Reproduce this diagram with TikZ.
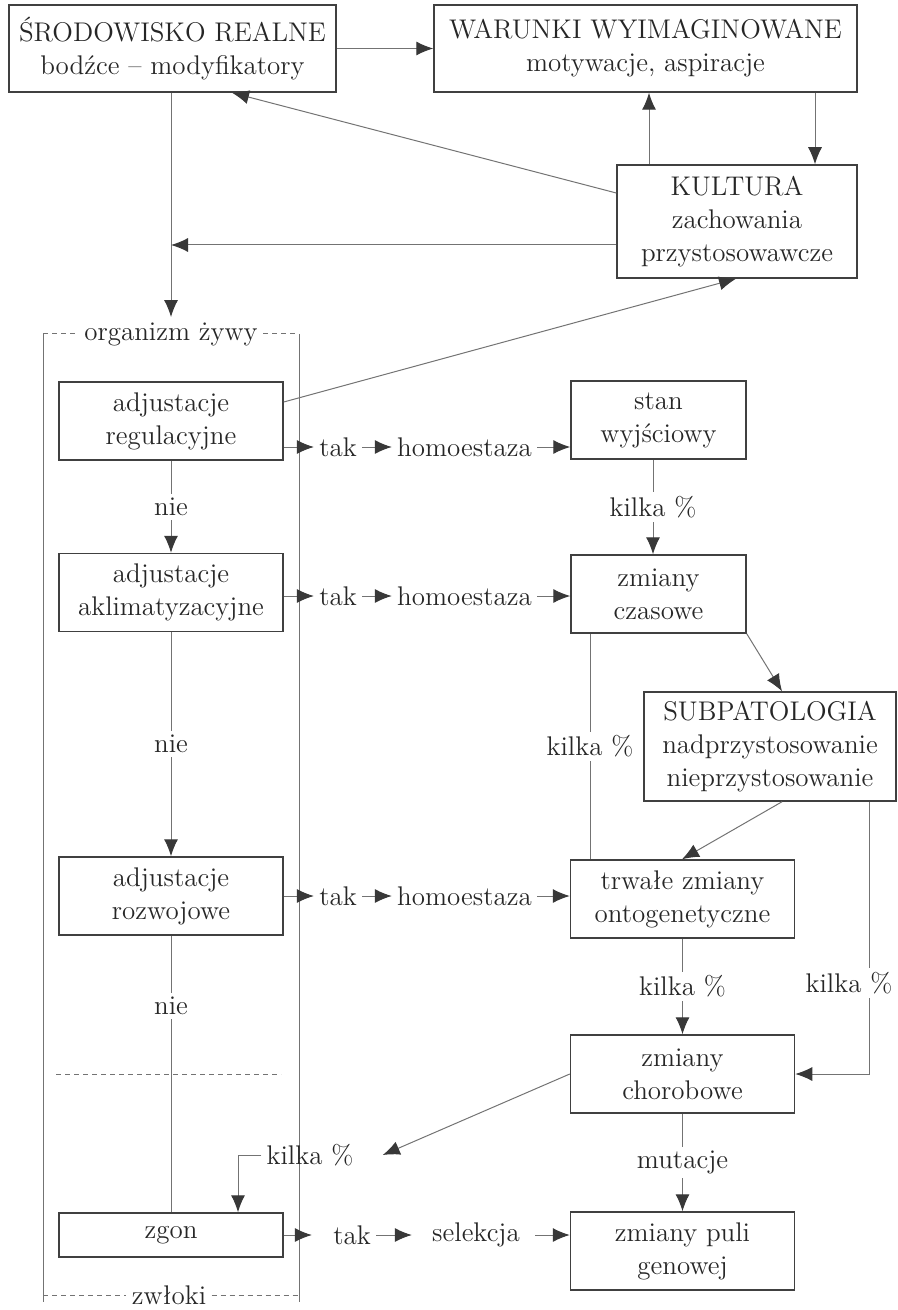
\documentclass[tikz,border=0pt]{standalone}
\usepackage{fontspec}
\usetikzlibrary{arrows.meta}

\begin{document}
\begin{tikzpicture}[x=0.5pt,y=-0.5pt,font=\fontsize{13.5}{16.5}\selectfont,
    every node/.append style={text=black!85},
    box/.style={draw=black!75,line width=0.75pt,align=center,inner sep=0pt,minimum width=112pt,minimum height=39pt},
    ln/.style={draw=black!55,line width=0.5pt},
    arr/.style={ln,-{Latex[length=8.5pt,width=7pt,color=black!78]}},
    lbl/.style={fill=white,inner sep=2pt},
    wd/.style={inner sep=2.5pt}]

    \useasboundingbox(0,0)rectangle(898,1310);

    \node[box,minimum width=163.5pt,minimum height=43.5pt](srod)at(172.5,48.5){ŚRODOWISKO REALNE\\bodźce – modyfikatory};
    \node[box,minimum width=211.5pt,minimum height=43.5pt](war)at(645.5,48.5){WARUNKI WYIMAGINOWANE\\motywacje, aspiracje};
    \node[box,minimum width=120pt,minimum height=56.5pt](kult)at(737,221.5){KULTURA\\zachowania\\przystosowawcze};

    \node[box](reg)at(171,421){adjustacje\\regulacyjne};
    \node[box](akl)at(171,592.5){adjustacje\\aklimatyzacyjne};
    \node[box](roz)at(171,896){adjustacje\\rozwojowe};
    \node[box,minimum height=22pt](zgon)at(171,1235){zgon};

    \node[box,minimum width=87.5pt](stan)at(658.5,420){stan\\wyjściowy};
    \node[box,minimum width=87.5pt](czas)at(658.5,594){zmiany\\czasowe};
    \node[box,minimum width=126pt,minimum height=54.5pt](sub)at(770,746.5){SUBPATOLOGIA\\nadprzystosowanie\\nieprzystosowanie};
    \node[box](trw)at(682.5,899){trwałe zmiany\\ontogenetyczne};
    \node[box](chor)at(682.5,1074){zmiany\\chorobowe};
    \node[box](puli)at(682.5,1251){zmiany puli\\genowej};

    \node[wd](org)at(171,334){organizm żywy};
    \node[wd](zwl)at(169,1295){zwłoki};
    \coordinate(ftl)at(43,334);
    \coordinate(ftr)at(299,334);
    \coordinate(fbl)at(43,1302);
    \coordinate(fbr)at(299,1302);
    \draw[ln](ftl)--(fbl);
    \draw[ln](ftr)--(fbr);
    \draw[ln,dash pattern=on 2.5pt off 2pt](ftl)--(org);
    \draw[ln,dash pattern=on 2.5pt off 2pt](org)--(ftr);
    \draw[ln,dash pattern=on 2.5pt off 2pt](fbl|-zwl)--(zwl);
    \draw[ln,dash pattern=on 2.5pt off 2pt](zwl)--(fbr|-zwl);
    \draw[ln,dash pattern=on 2.5pt off 2pt](56,1074)--(281,1074);

    \draw[arr](srod)--(war);
    \draw[arr](kult.north-|649,0)--(war.south-|649,0);
    \draw[arr](war.south-|815,0)--(kult.north-|815,0);
    \draw[arr](kult.west|-0,193)--(srod.south-|232,0);
    \draw[arr](srod.south-|org.north)--(org.north);
    \draw[arr](kult.west|-0,245)--(org.north|-0,245);
    \draw[arr](reg.east|-0,402)--(kult.south-|736,0);

    \foreach \s/\t/\y in {reg/stan/447,akl/czas/596,roz/trw/896}{
        \node[wd](tak\s)at(338,\y){tak};
        \node[wd](hom\s)at(464.5,\y){homoestaza};
        \draw[arr](\s.east|-0,\y)--(tak\s);
        \draw[arr](tak\s)--(hom\s);
        \draw[arr](hom\s)--(\t.west|-0,\y);
    }
    \node[wd](takz)at(352,1235){tak};
    \node[wd](sel)at(476,1235){selekcja};
    \draw[arr,shorten >=8pt](zgon)--(takz);
    \draw[arr,shorten >=7.5pt](takz)--(sel);
    \draw[arr,shorten <=5pt](sel)--(puli.west|-sel);

    \draw[arr](reg)--node[lbl]{nie}(akl);
    \draw[arr](akl)--node[lbl]{nie}(roz);
    \draw[ln](roz)--node[lbl,pos=0.255]{nie}(zgon);

    \draw[arr](stan.south-|653,0)--node[lbl]{kilka \%}(czas.north-|653,0);
    \draw[ln](czas.south-|590,0)--node[lbl]{kilka \%}(trw.north-|590,0);
    \draw[arr](czas.south east)--(sub.north-|782,0);
    \draw[arr](sub.south-|782,0)--(trw.north-|682,0);
    \draw[arr](sub.south-|869,0)|-node[lbl,pos=0.333,xshift=-10pt]{kilka \%}(chor.east);
    \draw[arr](trw)--node[lbl]{kilka \%}(chor);
    \draw[arr](chor)--node[lbl]{mutacje}(puli);

    \node[wd](kzg)at(310,1155){kilka \%};
    \draw[arr](chor.west)--([xshift=12pt]kzg.east);
    \draw[arr](kzg.west)-|(zgon.north-|238,0);

\end{tikzpicture}
\end{document}
